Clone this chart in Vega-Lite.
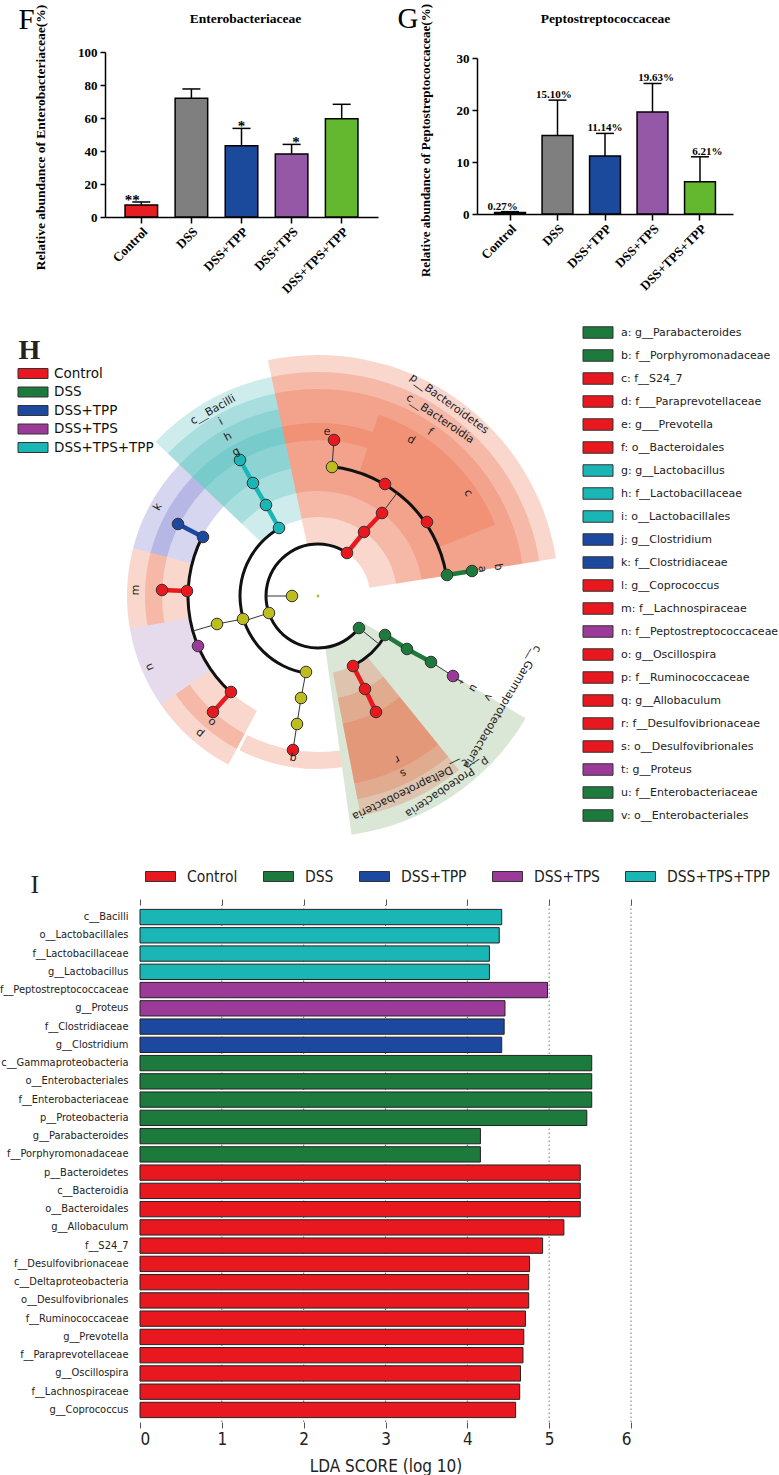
{
  "$schema": "https://vega.github.io/schema/vega-lite/v6.json",
  "width": 779,
  "height": 1475,
  "autosize": {"type": "none"},
  "padding": 0,
  "background": "white",
  "config": {"view": {"stroke": null}, "axis": {"grid": false}},
  "datasets": {
    "enterob": [
      {"group": "Control", "mean": 7.3, "upper": 9.1, "sig": "**"},
      {"group": "DSS", "mean": 71.9, "upper": 77.6, "sig": ""},
      {"group": "DSS+TPP", "mean": 43.2, "upper": 53.7, "sig": "*"},
      {"group": "DSS+TPS", "mean": 38.2, "upper": 44.0, "sig": "*"},
      {"group": "DSS+TPS+TPP", "mean": 59.6, "upper": 68.3, "sig": ""}
    ],
    "pepto": [
      {"group": "Control", "mean": 0.27, "upper": 0.45, "label": "0.27%"},
      {"group": "DSS", "mean": 15.10, "upper": 21.9, "label": "15.10%"},
      {"group": "DSS+TPP", "mean": 11.14, "upper": 15.5, "label": "11.14%"},
      {"group": "DSS+TPS", "mean": 19.63, "upper": 25.1, "label": "19.63%"},
      {"group": "DSS+TPS+TPP", "mean": 6.21, "upper": 11.0, "label": "6.21%"}
    ],
    "sectors": [
      {"clade": "p__Bacteroidetes", "start": -12, "end": 81, "inner": 52, "outer": 241, "group": "Control"},
      {"clade": "c__Bacteroidia", "start": -12, "end": 81, "inner": 79, "outer": 224, "group": "Control"},
      {"clade": "o__Bacteroidales", "start": -12, "end": 81, "inner": 105, "outer": 207, "group": "Control"},
      {"clade": "d", "start": 18.5, "end": 43.3, "inner": 130, "outer": 191, "group": "Control"},
      {"clade": "c", "start": 43.3, "end": 68, "inner": 130, "outer": 191, "group": "Control"},
      {"clade": "e", "start": -12, "end": 18.5, "inner": 156, "outer": 173, "group": "Control"},
      {"clade": "c__Bacilli", "start": -46.5, "end": -12, "inner": 78, "outer": 224, "group": "DSS+TPS+TPP"},
      {"clade": "i", "start": -46.5, "end": -12, "inner": 105, "outer": 207, "group": "DSS+TPS+TPP"},
      {"clade": "h", "start": -46.5, "end": -12, "inner": 130, "outer": 191, "group": "DSS+TPS+TPP"},
      {"clade": "g", "start": -46.5, "end": -12, "inner": 156, "outer": 173, "group": "DSS+TPS+TPP"},
      {"clade": "k", "start": -75.5, "end": -46.5, "inner": 130, "outer": 191, "group": "DSS+TPP"},
      {"clade": "j", "start": -75.5, "end": -46.5, "inner": 156, "outer": 173, "group": "DSS+TPP"},
      {"clade": "m", "start": -99.8, "end": -75.5, "inner": 130, "outer": 191, "group": "Control"},
      {"clade": "l", "start": -99.8, "end": -75.5, "inner": 156, "outer": 173, "group": "Control"},
      {"clade": "n", "start": -124.6, "end": -99.8, "inner": 130, "outer": 191, "group": "DSS+TPS"},
      {"clade": "p", "start": -152, "end": -124.6, "inner": 130, "outer": 191, "group": "Control"},
      {"clade": "o", "start": -152, "end": -124.6, "inner": 156, "outer": 173, "group": "Control"},
      {"clade": "q", "start": -188, "end": -153, "inner": 156, "outer": 173, "group": "Control"},
      {"clade": "p__Proteobacteria", "start": 120.5, "end": 172, "inner": 52, "outer": 241, "group": "DSS"},
      {"clade": "c__Deltaproteobacteria", "start": 141, "end": 169, "inner": 78, "outer": 224, "group": "Control"},
      {"clade": "s", "start": 141, "end": 169, "inner": 104, "outer": 207, "group": "Control"},
      {"clade": "r", "start": 141, "end": 169, "inner": 130, "outer": 191, "group": "Control"}
    ],
    "branchArcs": [
      {"start": -232, "end": 34, "r": 52},
      {"start": -171, "end": -30, "r": 78},
      {"start": 120, "end": 153.4, "r": 78},
      {"start": 6.2, "end": 80.8, "r": 130},
      {"start": -138, "end": -63, "r": 130}
    ],
    "thinEdges": [
      {"x": -26, "y": 0, "x2": -52, "y2": 0},
      {"x": -49, "y": -17, "x2": -74, "y2": -25},
      {"x": -75, "y": -23, "x2": -101, "y2": -28},
      {"x": -101, "y": -28, "x2": -125, "y2": -35},
      {"x": -12, "y": -76, "x2": -17, "y2": -102},
      {"x": -17, "y": -102, "x2": -21, "y2": -128},
      {"x": -21, "y": -128, "x2": -25, "y2": -154},
      {"x": 64, "y": 83, "x2": 79, "y2": 103},
      {"x": 14, "y": 129, "x2": 16, "y2": 156},
      {"x": 41, "y": -32, "x2": 61, "y2": -48},
      {"x": 113, "y": -66, "x2": 135, "y2": -80}
    ],
    "thickEdges": [
      {"x": 29, "y": 43, "x2": 46, "y2": 64, "group": "Control"},
      {"x": 46, "y": 64, "x2": 64, "y2": 83, "group": "Control"},
      {"x": -131, "y": 5, "x2": -156, "y2": 6, "group": "Control"},
      {"x": -87, "y": -96, "x2": -105, "y2": -116, "group": "Control"},
      {"x": 35, "y": -70, "x2": 47, "y2": -93, "group": "Control"},
      {"x": 47, "y": -93, "x2": 58, "y2": -116, "group": "Control"},
      {"x": 129, "y": 21, "x2": 154, "y2": 25, "group": "DSS"},
      {"x": 67, "y": -39, "x2": 89, "y2": -53, "group": "DSS"},
      {"x": 89, "y": -53, "x2": 113, "y2": -66, "group": "DSS"},
      {"x": -39, "y": 68, "x2": -52, "y2": 91, "group": "DSS+TPS+TPP"},
      {"x": -52, "y": 91, "x2": -65, "y2": 113, "group": "DSS+TPS+TPP"},
      {"x": -65, "y": 113, "x2": -78, "y2": 136, "group": "DSS+TPS+TPP"},
      {"x": -115, "y": 59, "x2": -140, "y2": 72, "group": "DSS+TPP"}
    ],
    "nodes": [
      {"x": -26, "y": 0, "group": "none"},
      {"x": -49, "y": -17, "group": "none"},
      {"x": 29, "y": 43, "group": "Control"},
      {"x": 41, "y": -32, "group": "DSS"},
      {"x": -39, "y": 68, "group": "DSS+TPS+TPP"},
      {"x": -75, "y": -23, "group": "none"},
      {"x": -12, "y": -76, "group": "none"},
      {"x": 46, "y": 64, "group": "Control"},
      {"x": 67, "y": -39, "group": "DSS"},
      {"x": 35, "y": -70, "group": "Control"},
      {"x": -52, "y": 91, "group": "DSS+TPS+TPP"},
      {"x": -101, "y": -28, "group": "none"},
      {"x": -17, "y": -102, "group": "none"},
      {"x": 64, "y": 83, "group": "Control"},
      {"x": 89, "y": -53, "group": "DSS"},
      {"x": 47, "y": -93, "group": "Control"},
      {"x": -65, "y": 113, "group": "DSS+TPS+TPP"},
      {"x": -115, "y": 59, "group": "DSS+TPP"},
      {"x": -131, "y": 5, "group": "Control"},
      {"x": -120, "y": -50, "group": "DSS+TPS"},
      {"x": -87, "y": -96, "group": "Control"},
      {"x": -21, "y": -128, "group": "none"},
      {"x": 14, "y": 129, "group": "none"},
      {"x": 67, "y": 112, "group": "Control"},
      {"x": 109, "y": 74, "group": "Control"},
      {"x": 129, "y": 21, "group": "DSS"},
      {"x": 113, "y": -66, "group": "DSS"},
      {"x": 58, "y": -116, "group": "Control"},
      {"x": -78, "y": 136, "group": "DSS+TPS+TPP"},
      {"x": -140, "y": 72, "group": "DSS+TPP"},
      {"x": -156, "y": 6, "group": "Control"},
      {"x": -105, "y": -116, "group": "Control"},
      {"x": -25, "y": -154, "group": "Control"},
      {"x": 16, "y": 156, "group": "Control"},
      {"x": 154, "y": 25, "group": "DSS"},
      {"x": 135, "y": -80, "group": "DSS+TPS"}
    ],
    "cladeLabels": [
      {"label": "c__Bacilli", "x": -105, "y": 186, "theta": -29},
      {"label": "i", "x": -97, "y": 174, "theta": -29},
      {"label": "h", "x": -90, "y": 159, "theta": -29},
      {"label": "g", "x": -82, "y": 144, "theta": -29},
      {"label": "k", "x": -160, "y": 89, "theta": -61},
      {"label": "m", "x": -182, "y": 6, "theta": -88},
      {"label": "n", "x": -168, "y": -71, "theta": -113},
      {"label": "o", "x": -106, "y": -126, "theta": -140},
      {"label": "p", "x": -118, "y": -137, "theta": -139},
      {"label": "q", "x": -25, "y": -162, "theta": -171},
      {"label": "e", "x": 9, "y": 164, "theta": 3},
      {"label": "d", "x": 93, "y": 156, "theta": 31},
      {"label": "f", "x": 112, "y": 164, "theta": 34},
      {"label": "c", "x": 150, "y": 103, "theta": 56},
      {"label": "b", "x": 180, "y": 29, "theta": 81},
      {"label": "a", "x": 164, "y": 27, "theta": 81},
      {"label": "p__Bacteroidetes", "x": 131, "y": 192, "theta": 36},
      {"label": "c__Bacteroidia", "x": 122, "y": 177, "theta": 34},
      {"label": "c__Gammaproteobacteria", "x": 184, "y": -111, "theta": 121},
      {"label": "p__Proteobacteria", "x": 129, "y": -191, "theta": 146},
      {"label": "c__Deltaproteobacteria", "x": 92, "y": -193, "theta": 154},
      {"label": "r", "x": 79, "y": -163, "theta": 154},
      {"label": "s", "x": 85, "y": -177, "theta": 154},
      {"label": "t", "x": 141, "y": -85, "theta": 121},
      {"label": "u", "x": 155, "y": -92, "theta": 121},
      {"label": "v", "x": 170, "y": -101, "theta": 121}
    ],
    "biomarkers": [
      {"key": "a: g__Parabacteroides", "group": "DSS"},
      {"key": "b: f__Porphyromonadaceae", "group": "DSS"},
      {"key": "c: f__S24_7", "group": "Control"},
      {"key": "d: f___Paraprevotellaceae", "group": "Control"},
      {"key": "e: g___Prevotella", "group": "Control"},
      {"key": "f: o__Bacteroidales", "group": "Control"},
      {"key": "g: g__Lactobacillus", "group": "DSS+TPS+TPP"},
      {"key": "h: f__Lactobacillaceae", "group": "DSS+TPS+TPP"},
      {"key": "i: o__Lactobacillales", "group": "DSS+TPS+TPP"},
      {"key": "j: g__Clostridium", "group": "DSS+TPP"},
      {"key": "k: f__Clostridiaceae", "group": "DSS+TPP"},
      {"key": "l: g__Coprococcus", "group": "Control"},
      {"key": "m: f__Lachnospiraceae", "group": "Control"},
      {"key": "n: f__Peptostreptococcaceae", "group": "DSS+TPS"},
      {"key": "o: g__Oscillospira", "group": "Control"},
      {"key": "p: f__Ruminococcaceae", "group": "Control"},
      {"key": "q: g__Allobaculum", "group": "Control"},
      {"key": "r: f__Desulfovibrionaceae", "group": "Control"},
      {"key": "s: o__Desulfovibrionales", "group": "Control"},
      {"key": "t: g__Proteus", "group": "DSS+TPS"},
      {"key": "u: f__Enterobacteriaceae", "group": "DSS"},
      {"key": "v: o__Enterobacteriales", "group": "DSS"}
    ],
    "lda": [
      {"taxon": "c__Bacilli", "lda": 4.42, "group": "DSS+TPS+TPP"},
      {"taxon": "o__Lactobacillales", "lda": 4.39, "group": "DSS+TPS+TPP"},
      {"taxon": "f__Lactobacillaceae", "lda": 4.27, "group": "DSS+TPS+TPP"},
      {"taxon": "g__Lactobacillus", "lda": 4.27, "group": "DSS+TPS+TPP"},
      {"taxon": "f__Peptostreptococcaceae", "lda": 4.98, "group": "DSS+TPS"},
      {"taxon": "g__Proteus", "lda": 4.46, "group": "DSS+TPS"},
      {"taxon": "f__Clostridiaceae", "lda": 4.45, "group": "DSS+TPP"},
      {"taxon": "g__Clostridium", "lda": 4.42, "group": "DSS+TPP"},
      {"taxon": "c__Gammaproteobacteria", "lda": 5.52, "group": "DSS"},
      {"taxon": "o__Enterobacteriales", "lda": 5.52, "group": "DSS"},
      {"taxon": "f__Enterobacteriaceae", "lda": 5.52, "group": "DSS"},
      {"taxon": "p__Proteobacteria", "lda": 5.46, "group": "DSS"},
      {"taxon": "g__Parabacteroides", "lda": 4.16, "group": "DSS"},
      {"taxon": "f__Porphyromonadaceae", "lda": 4.16, "group": "DSS"},
      {"taxon": "p__Bacteroidetes", "lda": 5.38, "group": "Control"},
      {"taxon": "c__Bacteroidia", "lda": 5.38, "group": "Control"},
      {"taxon": "o__Bacteroidales", "lda": 5.38, "group": "Control"},
      {"taxon": "g__Allobaculum", "lda": 5.18, "group": "Control"},
      {"taxon": "f__S24_7", "lda": 4.92, "group": "Control"},
      {"taxon": "f__Desulfovibrionaceae", "lda": 4.76, "group": "Control"},
      {"taxon": "c__Deltaproteobacteria", "lda": 4.75, "group": "Control"},
      {"taxon": "o__Desulfovibrionales", "lda": 4.75, "group": "Control"},
      {"taxon": "f__Ruminococcaceae", "lda": 4.71, "group": "Control"},
      {"taxon": "g__Prevotella", "lda": 4.69, "group": "Control"},
      {"taxon": "f__Paraprevotellaceae", "lda": 4.68, "group": "Control"},
      {"taxon": "g__Oscillospira", "lda": 4.65, "group": "Control"},
      {"taxon": "f__Lachnospiraceae", "lda": 4.64, "group": "Control"},
      {"taxon": "g__Coprococcus", "lda": 4.59, "group": "Control"}
    ],
    "ldaGrid": [{"v": 1}, {"v": 2}, {"v": 3}, {"v": 4}, {"v": 5}, {"v": 6}]
  },
  "layer": [
    {
      "data": {"name": "enterob"},
      "mark": {"type": "bar", "stroke": "black", "strokeWidth": 1.5},
      "encoding": {
        "x": {"field": "group", "type": "nominal", "sort": null,
          "scale": {"domain": ["Control", "DSS", "DSS+TPP", "DSS+TPS", "DSS+TPS+TPP"], "range": [105, 378], "paddingInner": 0.35, "paddingOuter": 0.4},
          "axis": {"orient": "bottom", "offset": -1258, "title": null, "labelAngle": -45, "labelFont": "Liberation Serif", "labelFontWeight": "bold", "labelFontSize": 13, "labelColor": "black", "labelPadding": 2, "tickColor": "black", "tickWidth": 1.5, "tickSize": 6, "domainColor": "black", "domainWidth": 1.5, "grid": false}},
        "y": {"field": "mean", "type": "quantitative",
          "scale": {"domain": [0, 100], "range": [217, 52], "nice": false, "zero": false},
          "axis": {"orient": "left", "offset": -105, "title": "Relative abundance of Enterobacteriaceae(%)", "values": [0, 20, 40, 60, 80, 100], "grid": false, "labelFont": "Liberation Serif", "labelFontWeight": "bold", "labelFontSize": 13, "labelColor": "black", "labelPadding": 3, "tickColor": "black", "tickWidth": 1.5, "tickSize": 5, "domainColor": "black", "domainWidth": 1.5, "titleFont": "Liberation Serif", "titleFontWeight": "bold", "titleFontSize": 13.5, "titleColor": "black", "titleX": -65, "titleY": 137, "titleAngle": -90, "titleAlign": "center", "titleBaseline": "middle"}},
        "fill": {"field": "group", "type": "nominal", "scale": {"domain": ["Control", "DSS", "DSS+TPP", "DSS+TPS", "DSS+TPS+TPP"], "range": ["#e41e22", "#7f7f7f", "#1b4a9c", "#9558a6", "#64b830"]}, "legend": null}
      }
    },
    {
      "data": {"name": "enterob"},
      "mark": {"type": "rule", "color": "black", "strokeWidth": 1.5},
      "encoding": {
        "x": {"field": "group", "type": "nominal", "sort": null, "scale": {"domain": ["Control", "DSS", "DSS+TPP", "DSS+TPS", "DSS+TPS+TPP"], "range": [105, 378], "paddingInner": 0.35, "paddingOuter": 0.4}, "axis": null},
        "y": {"field": "mean", "type": "quantitative", "scale": {"domain": [0, 100], "range": [217, 52], "nice": false, "zero": false}, "axis": null},
        "y2": {"field": "upper"}
      }
    },
    {
      "data": {"name": "enterob"},
      "mark": {"type": "tick", "color": "black", "thickness": 1.5, "size": 18, "opacity": 1},
      "encoding": {
        "x": {"field": "group", "type": "nominal", "sort": null, "scale": {"domain": ["Control", "DSS", "DSS+TPP", "DSS+TPS", "DSS+TPS+TPP"], "range": [105, 378], "paddingInner": 0.35, "paddingOuter": 0.4}, "axis": null},
        "y": {"field": "upper", "type": "quantitative", "scale": {"domain": [0, 100], "range": [217, 52], "nice": false, "zero": false}, "axis": null}
      }
    },
    {
      "data": {"name": "enterob"},
      "mark": {"type": "text", "font": "Liberation Serif", "fontWeight": "bold", "fontSize": 15, "color": "black", "baseline": "alphabetic", "dy": 3},
      "encoding": {
        "x": {"field": "group", "type": "nominal", "sort": null, "scale": {"domain": ["Control", "DSS", "DSS+TPP", "DSS+TPS", "DSS+TPS+TPP"], "range": [105, 378], "paddingInner": 0.35, "paddingOuter": 0.4},
          "axis": {"orient": "top", "offset": -52, "title": "Enterobacteriaceae", "labels": false, "ticks": false, "domain": false, "grid": false, "titleX": 245, "titleY": -34, "titleAlign": "center", "titleBaseline": "middle", "titleFont": "Liberation Serif", "titleFontSize": 13.5, "titleFontWeight": "bold", "titleColor": "black"}},
        "y": {"field": "upper", "type": "quantitative", "scale": {"domain": [0, 100], "range": [217, 52], "nice": false, "zero": false},
          "axis": {"orient": "left", "offset": 0, "title": "F", "labels": false, "ticks": false, "domain": false, "grid": false, "titleX": 18, "titleY": 28, "titleAngle": 0, "titleAlign": "left", "titleBaseline": "alphabetic", "titleFont": "Liberation Serif", "titleFontSize": 29, "titleFontWeight": "normal", "titleColor": "black"}},
        "text": {"field": "sig"}
      }
    },
    {
      "data": {"name": "pepto"},
      "mark": {"type": "bar", "stroke": "black", "strokeWidth": 1.5},
      "encoding": {
        "x": {"field": "group", "type": "nominal", "sort": null,
          "scale": {"domain": ["Control", "DSS", "DSS+TPP", "DSS+TPS", "DSS+TPS+TPP"], "range": [477, 733], "paddingInner": 0.35, "paddingOuter": 0.37},
          "axis": {"orient": "bottom", "offset": -1261, "title": null, "labelAngle": -45, "labelFont": "Liberation Serif", "labelFontWeight": "bold", "labelFontSize": 13, "labelColor": "black", "labelPadding": 2, "tickColor": "black", "tickWidth": 1.5, "tickSize": 6, "domainColor": "black", "domainWidth": 1.5, "grid": false}},
        "y": {"field": "mean", "type": "quantitative",
          "scale": {"domain": [0, 30], "range": [214, 58], "nice": false, "zero": false},
          "axis": {"orient": "left", "offset": -477, "title": "Relative abundance of Peptostreptococcaceae(%)", "values": [0, 10, 20, 30], "grid": false, "labelFont": "Liberation Serif", "labelFontWeight": "bold", "labelFontSize": 13, "labelColor": "black", "labelPadding": 3, "tickColor": "black", "tickWidth": 1.5, "tickSize": 5, "domainColor": "black", "domainWidth": 1.5, "titleFont": "Liberation Serif", "titleFontWeight": "bold", "titleFontSize": 13, "titleColor": "black", "titleX": -52, "titleY": 140, "titleAngle": -90, "titleAlign": "center", "titleBaseline": "middle"}},
        "fill": {"field": "group", "type": "nominal", "scale": {"domain": ["Control", "DSS", "DSS+TPP", "DSS+TPS", "DSS+TPS+TPP"], "range": ["#e41e22", "#7f7f7f", "#1b4a9c", "#9558a6", "#64b830"]}, "legend": null}
      }
    },
    {
      "data": {"name": "pepto"},
      "mark": {"type": "rule", "color": "black", "strokeWidth": 1.5},
      "encoding": {
        "x": {"field": "group", "type": "nominal", "sort": null, "scale": {"domain": ["Control", "DSS", "DSS+TPP", "DSS+TPS", "DSS+TPS+TPP"], "range": [477, 733], "paddingInner": 0.35, "paddingOuter": 0.37}, "axis": null},
        "y": {"field": "mean", "type": "quantitative", "scale": {"domain": [0, 30], "range": [214, 58], "nice": false, "zero": false}, "axis": null},
        "y2": {"field": "upper"}
      }
    },
    {
      "data": {"name": "pepto"},
      "mark": {"type": "tick", "color": "black", "thickness": 1.5, "size": 18, "opacity": 1},
      "encoding": {
        "x": {"field": "group", "type": "nominal", "sort": null, "scale": {"domain": ["Control", "DSS", "DSS+TPP", "DSS+TPS", "DSS+TPS+TPP"], "range": [477, 733], "paddingInner": 0.35, "paddingOuter": 0.37}, "axis": null},
        "y": {"field": "upper", "type": "quantitative", "scale": {"domain": [0, 30], "range": [214, 58], "nice": false, "zero": false}, "axis": null}
      }
    },
    {
      "data": {"name": "pepto"},
      "mark": {"type": "text", "font": "Liberation Serif", "fontWeight": "bold", "fontSize": 11, "color": "black", "baseline": "alphabetic", "dy": -2},
      "encoding": {
        "x": {"field": "group", "type": "nominal", "sort": null, "scale": {"domain": ["Control", "DSS", "DSS+TPP", "DSS+TPS", "DSS+TPS+TPP"], "range": [477, 733], "paddingInner": 0.35, "paddingOuter": 0.37},
          "axis": {"orient": "top", "offset": -58, "title": "Peptostreptococcaceae", "labels": false, "ticks": false, "domain": false, "grid": false, "titleX": 605, "titleY": -40, "titleAlign": "center", "titleBaseline": "middle", "titleFont": "Liberation Serif", "titleFontSize": 13.5, "titleFontWeight": "bold", "titleColor": "black"}},
        "y": {"field": "upper", "type": "quantitative", "scale": {"domain": [0, 30], "range": [214, 58], "nice": false, "zero": false},
          "axis": {"orient": "left", "offset": 0, "title": "G", "labels": false, "ticks": false, "domain": false, "grid": false, "titleX": 397, "titleY": 27, "titleAngle": 0, "titleAlign": "left", "titleBaseline": "alphabetic", "titleFont": "Liberation Serif", "titleFontSize": 29, "titleFontWeight": "normal", "titleColor": "black"}},
        "text": {"field": "label"}
      }
    },
    {
      "data": {"name": "sectors"},
      "mark": {"type": "arc", "fillOpacity": 0.25},
      "encoding": {
        "x": {"datum": 0, "type": "quantitative", "scale": {"domain": [-213, 213], "range": [105, 531], "nice": false, "zero": false}, "axis": null},
        "y": {"datum": 0, "type": "quantitative", "scale": {"domain": [-275, 275], "range": [871, 321], "nice": false, "zero": false}, "axis": null},
        "theta": {"field": "start", "type": "quantitative", "stack": null, "scale": {"type": "linear", "domain": [0, 360], "range": [0, 6.283185307], "zero": false, "nice": false}},
        "theta2": {"field": "end"},
        "radius": {"field": "outer", "type": "quantitative", "scale": {"type": "linear", "domain": [0, 250], "range": [0, 250], "zero": false, "nice": false}},
        "radius2": {"field": "inner"},
        "fill": {"field": "group", "type": "nominal", "scale": {"domain": ["Control", "DSS", "DSS+TPP", "DSS+TPS", "DSS+TPS+TPP"], "range": ["#eb5f37", "#6a9a5a", "#5a5ac8", "#9a6ab8", "#3cb4b4"]}, "legend": null}
      }
    },
    {
      "data": {"name": "branchArcs"},
      "mark": {"type": "arc", "fill": "#111111", "radiusOffset": 1.5, "radius2Offset": -1.5},
      "encoding": {
        "x": {"datum": 0, "type": "quantitative", "scale": {"domain": [-213, 213], "range": [105, 531], "nice": false, "zero": false}, "axis": null},
        "y": {"datum": 0, "type": "quantitative", "scale": {"domain": [-275, 275], "range": [871, 321], "nice": false, "zero": false}, "axis": null},
        "theta": {"field": "start", "type": "quantitative", "stack": null, "scale": {"type": "linear", "domain": [0, 360], "range": [0, 6.283185307], "zero": false, "nice": false}},
        "theta2": {"field": "end"},
        "radius": {"field": "r", "type": "quantitative", "scale": {"type": "linear", "domain": [0, 250], "range": [0, 250], "zero": false, "nice": false}},
        "radius2": {"field": "r"}
      }
    },
    {
      "data": {"name": "thinEdges"},
      "mark": {"type": "rule", "color": "#333333", "strokeWidth": 1},
      "encoding": {
        "x": {"field": "x", "type": "quantitative", "scale": {"domain": [-213, 213], "range": [105, 531], "nice": false, "zero": false}, "axis": null},
        "y": {"field": "y", "type": "quantitative", "scale": {"domain": [-275, 275], "range": [871, 321], "nice": false, "zero": false}, "axis": null},
        "x2": {"field": "x2"},
        "y2": {"field": "y2"}
      }
    },
    {
      "data": {"name": "thickEdges"},
      "mark": {"type": "rule", "strokeWidth": 4.5},
      "encoding": {
        "x": {"field": "x", "type": "quantitative", "scale": {"domain": [-213, 213], "range": [105, 531], "nice": false, "zero": false}, "axis": null},
        "y": {"field": "y", "type": "quantitative", "scale": {"domain": [-275, 275], "range": [871, 321], "nice": false, "zero": false}, "axis": null},
        "x2": {"field": "x2"},
        "y2": {"field": "y2"},
        "stroke": {"field": "group", "type": "nominal", "scale": {"domain": ["Control", "DSS", "DSS+TPP", "DSS+TPS", "DSS+TPS+TPP", "none"], "range": ["#e8181e", "#1c7a3c", "#1d48a0", "#9b3a98", "#1ab6b6", "#bdbd1e"]}, "legend": null}
      }
    },
    {
      "data": {"name": "nodes"},
      "mark": {"type": "point", "filled": true, "size": 135, "stroke": "#333333", "strokeWidth": 1, "opacity": 1},
      "encoding": {
        "x": {"field": "x", "type": "quantitative", "scale": {"domain": [-213, 213], "range": [105, 531], "nice": false, "zero": false}, "axis": null},
        "y": {"field": "y", "type": "quantitative", "scale": {"domain": [-275, 275], "range": [871, 321], "nice": false, "zero": false},
          "axis": {"orient": "left", "offset": 0, "title": "H", "labels": false, "ticks": false, "domain": false, "grid": false, "titleX": 18, "titleY": 358, "titleAngle": 0, "titleAlign": "left", "titleBaseline": "alphabetic", "titleFont": "Liberation Serif", "titleFontSize": 28, "titleFontWeight": "bold", "titleColor": "#222222"}},
        "fill": {"field": "group", "type": "nominal",
          "scale": {"domain": ["Control", "DSS", "DSS+TPP", "DSS+TPS", "DSS+TPS+TPP", "none"], "range": ["#e8181e", "#1c7a3c", "#1d48a0", "#9b3a98", "#1ab6b6", "#bdbd1e"]},
          "legend": {"orient": "none", "legendX": 22.5, "legendY": 363, "direction": "vertical", "title": null, "values": ["Control", "DSS", "DSS+TPP", "DSS+TPS", "DSS+TPS+TPP"], "symbolType": "M-1.5,-0.5H1.5V0.5H-1.5Z", "symbolSize": 400, "symbolStrokeColor": "#333333", "symbolStrokeWidth": 1, "symbolOpacity": 1, "labelFont": "DejaVu Sans", "labelFontSize": 13.5, "labelColor": "#111111", "labelOffset": 10.5, "rowPadding": 0.5, "padding": 0}}
      }
    },
    {
      "data": {"values": [{"x": 0, "y": 0}]},
      "mark": {"type": "point", "filled": true, "size": 8, "color": "#bdbd1e", "opacity": 1},
      "encoding": {
        "x": {"field": "x", "type": "quantitative", "scale": {"domain": [-213, 213], "range": [105, 531], "nice": false, "zero": false}, "axis": null},
        "y": {"field": "y", "type": "quantitative", "scale": {"domain": [-275, 275], "range": [871, 321], "nice": false, "zero": false}, "axis": null}
      }
    },
    {
      "data": {"name": "cladeLabels"},
      "mark": {"type": "text", "font": "DejaVu Sans", "fontSize": 11, "color": "#222222", "align": "center", "baseline": "middle"},
      "encoding": {
        "x": {"field": "x", "type": "quantitative", "scale": {"domain": [-213, 213], "range": [105, 531], "nice": false, "zero": false}, "axis": null},
        "y": {"field": "y", "type": "quantitative", "scale": {"domain": [-275, 275], "range": [871, 321], "nice": false, "zero": false}, "axis": null},
        "text": {"field": "label"},
        "angle": {"field": "theta", "type": "quantitative", "scale": null}
      }
    },
    {
      "data": {"name": "biomarkers"},
      "mark": {"type": "rect", "stroke": "#333333", "strokeWidth": 1},
      "encoding": {
        "y": {"field": "key", "type": "nominal", "sort": null, "scale": {"range": [321, 827], "paddingInner": 0.5, "paddingOuter": 0.25}, "axis": null},
        "x": {"datum": 0, "type": "quantitative", "scale": {"domain": [0, 1], "range": [583, 613], "nice": false, "zero": false}, "axis": null},
        "x2": {"datum": 1},
        "fill": {"field": "group", "type": "nominal", "scale": {"domain": ["Control", "DSS", "DSS+TPP", "DSS+TPS", "DSS+TPS+TPP"], "range": ["#e8181e", "#1c7a3c", "#1d48a0", "#9b3a98", "#1ab6b6"]}, "legend": null}
      }
    },
    {
      "data": {"name": "biomarkers"},
      "mark": {"type": "text", "align": "left", "baseline": "middle", "dx": 8, "font": "DejaVu Sans", "fontSize": 11, "color": "#222222"},
      "encoding": {
        "y": {"field": "key", "type": "nominal", "sort": null, "scale": {"range": [321, 827], "paddingInner": 0.5, "paddingOuter": 0.25}, "axis": null},
        "x": {"datum": 1, "type": "quantitative", "scale": {"domain": [0, 1], "range": [583, 613], "nice": false, "zero": false}, "axis": null},
        "text": {"field": "key"}
      }
    },
    {
      "data": {"name": "ldaGrid"},
      "mark": {"type": "rule", "color": "#777777", "strokeWidth": 1, "strokeDash": [1.5, 2.5]},
      "encoding": {
        "x": {"field": "v", "type": "quantitative", "scale": {"domain": [0, 6], "range": [140, 631], "nice": false, "zero": false},
          "axis": {"orient": "top", "offset": -905, "values": [0, 1, 2, 3, 4, 5, 6], "labels": false, "title": null, "domain": false, "grid": false, "tickSize": 6, "tickColor": "#555555", "tickWidth": 1}},
        "y": {"datum": 0, "type": "quantitative", "scale": {"domain": [0, 1], "range": [1422, 905], "nice": false, "zero": false},
          "axis": {"orient": "left", "offset": 0, "title": "I", "labels": false, "ticks": false, "domain": false, "grid": false, "titleX": 30, "titleY": 892, "titleAngle": 0, "titleAlign": "left", "titleBaseline": "alphabetic", "titleFont": "Liberation Serif", "titleFontSize": 26, "titleFontWeight": "normal", "titleColor": "#222222"}},
        "y2": {"datum": 1}
      }
    },
    {
      "data": {"name": "lda"},
      "mark": {"type": "bar", "stroke": "#222222", "strokeWidth": 1},
      "encoding": {
        "y": {"field": "taxon", "type": "nominal", "sort": null, "scale": {"range": [905, 1422], "paddingInner": 0.16, "paddingOuter": 0.24},
          "axis": {"orient": "left", "offset": -140, "title": null, "domain": false, "ticks": false, "grid": false, "labelFont": "DejaVu Sans Condensed, Liberation Sans Narrow, Arial Narrow, sans-serif", "labelFontSize": 11, "labelColor": "#222222", "labelPadding": 12, "labelLimit": 0}},
        "x": {"field": "lda", "type": "quantitative", "scale": {"domain": [0, 6], "range": [140, 631], "nice": false, "zero": true},
          "axis": {"orient": "bottom", "offset": -53, "values": [0, 1, 2, 3, 4, 5, 6], "title": "LDA SCORE (log 10)", "domain": false, "grid": false, "tickSize": 6, "tickColor": "#555555", "labelFont": "DejaVu Sans Condensed, Liberation Sans Narrow, Arial Narrow, sans-serif", "labelFontSize": 17, "labelColor": "#222222", "labelPadding": 3, "titleFont": "DejaVu Sans Condensed, Liberation Sans Narrow, Arial Narrow, sans-serif", "titleFontSize": 17, "titleFontWeight": "normal", "titleColor": "#222222", "titleY": 44, "titleBaseline": "middle"}},
        "fill": {"field": "group", "type": "nominal",
          "scale": {"domain": ["Control", "DSS", "DSS+TPP", "DSS+TPS", "DSS+TPS+TPP"], "range": ["#e8181e", "#1c7a3c", "#1d48a0", "#9b3a98", "#1ab6b6"]},
          "legend": {"orient": "none", "legendX": 150, "legendY": 866, "direction": "horizontal", "title": null, "symbolType": "M-1.5,-0.5H1.5V0.5H-1.5Z", "symbolSize": 400, "symbolStrokeColor": "#333333", "symbolStrokeWidth": 1, "symbolOpacity": 1, "labelFont": "DejaVu Sans Condensed, Liberation Sans Narrow, Arial Narrow, sans-serif", "labelFontSize": 15.5, "labelColor": "#222222", "labelOffset": 16, "columnPadding": 23, "padding": 0}}
      }
    }
  ],
  "resolve": {
    "scale": {"x": "independent", "y": "independent", "fill": "independent", "stroke": "independent"},
    "axis": {"x": "independent", "y": "independent"},
    "legend": {"fill": "independent", "stroke": "independent"}
  }
}
